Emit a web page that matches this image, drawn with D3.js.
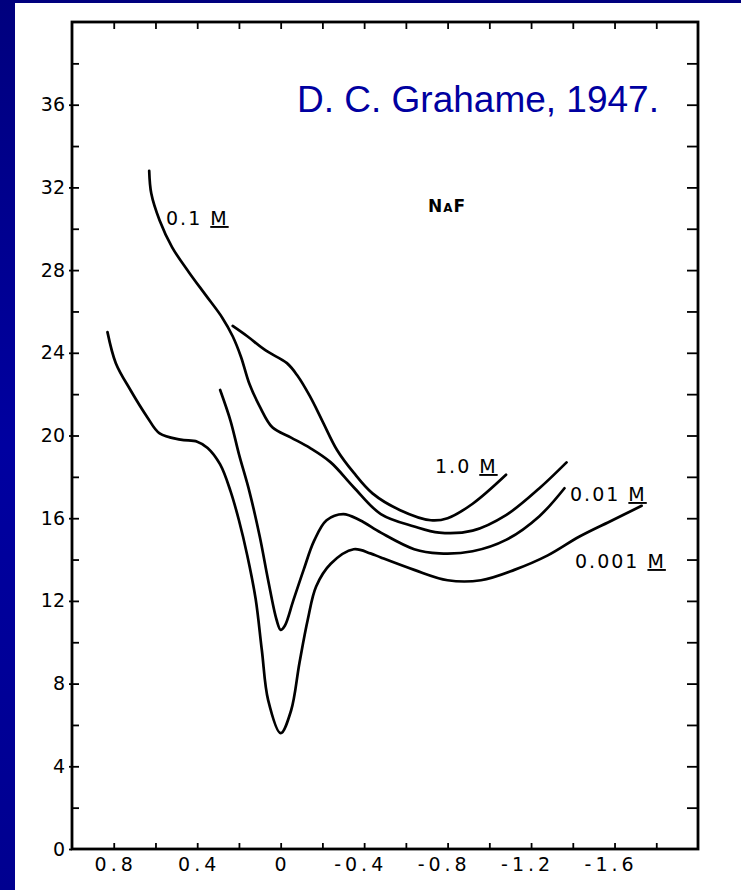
<!DOCTYPE html>
<html>
<head>
<meta charset="utf-8">
<script src="https://cdn.jsdelivr.net/npm/d3@7"></script>
<style>
  body { margin: 0; background: #000088; }
  svg { display: block; }
</style>
</head>
<body>
<div id="plot"></div>
<script>
// Grahame 1947, differential capacity of mercury in NaF solutions

// potential (V) and capacity (uF/cm2) for each concentration
const e0001 = [0.83, 0.79, 0.72, 0.64, 0.58, 0.48, 0.40, 0.35, 0.29, 0.24, 0.20, 0.16, 0.12, 0.09, 0.06, 0.00, -0.05, -0.09, -0.13, -0.17, -0.24, -0.35, -0.43, -0.48, -0.64, -0.80, -0.96, -1.12, -1.28, -1.43, -1.59, -1.73];
const c0001 = [25.0, 23.5, 22.2, 20.9, 20.1, 19.8, 19.7, 19.4, 18.6, 17.3, 15.9, 14.2, 12.1, 9.6, 7.2, 5.6, 6.7, 9.0, 11.1, 12.7, 13.8, 14.5, 14.3, 14.1, 13.5, 13.0, 13.0, 13.5, 14.2, 15.1, 15.9, 16.6];

const e001 = [0.29, 0.24, 0.20, 0.15, 0.10, 0.06, 0.02, 0.00, -0.02, -0.06, -0.11, -0.16, -0.22, -0.30, -0.38, -0.48, -0.64, -0.76, -0.92, -1.08, -1.24, -1.36];
const c001 = [22.2, 20.7, 19.1, 17.3, 15.1, 13.0, 11.1, 10.6, 10.8, 12.0, 13.5, 14.9, 15.9, 16.2, 15.9, 15.3, 14.5, 14.3, 14.4, 14.95, 16.1, 17.45];

const e01 = [0.63, 0.62, 0.58, 0.52, 0.44, 0.36, 0.28, 0.23, 0.19, 0.15, 0.10, 0.04, -0.05, -0.14, -0.24, -0.35, -0.48, -0.64, -0.76, -0.92, -1.08, -1.24, -1.37];
const c01 = [32.8, 31.7, 30.4, 29.1, 27.9, 26.8, 25.7, 24.8, 23.8, 22.5, 21.4, 20.4, 19.9, 19.4, 18.7, 17.5, 16.2, 15.6, 15.3, 15.4, 16.15, 17.45, 18.7];

const e1 = [0.23, 0.16, 0.07, -0.03, -0.08, -0.14, -0.20, -0.27, -0.35, -0.44, -0.57, -0.72, -0.80, -0.92, -1.08];
const c1 = [25.3, 24.8, 24.1, 23.5, 22.9, 21.9, 20.7, 19.3, 18.2, 17.2, 16.4, 15.9, 16.0, 16.7, 18.1];

const curveNames = ["0.001", "0.01", "0.1", "1.0"];

// tick labels
const yLabelVals = [0, 4, 8, 12, 16, 20, 24, 28, 32, 36];
const yMinorVals = d3.range(2, 40, 2);
const xLabelVals = [0.8, 0.4, 0, -0.4, -0.8, -1.2, -1.6];
const xLabels = ["0.8", "0.4", "0", "-0.4", "-0.8", "-1.2", "-1.6"];
const xMinorVals = d3.range(8, -19, -2).map(d => d / 10);

const w = 741;
const h = 890;

const svg = d3.select("div#plot")
  .append("svg")
  .attr("width", w)
  .attr("height", h);

// blue slide background
const grad = svg.append("defs").append("linearGradient")
  .attr("id", "bg").attr("x1", 0).attr("y1", 0).attr("x2", 0).attr("y2", 1);
grad.append("stop").attr("offset", "0%").attr("stop-color", "#00007e");
grad.append("stop").attr("offset", "50%").attr("stop-color", "#0000a0");
grad.append("stop").attr("offset", "100%").attr("stop-color", "#000090");

svg.append("rect")
  .attr("width", w).attr("height", h)
  .attr("fill", "url(#bg)");

svg.append("rect")
  .attr("x", 15).attr("y", 3)
  .attr("width", w - 15).attr("height", h - 3)
  .attr("fill", "white");

// scales
const x = d3.scaleLinear().domain([1.0, -2.0]).range([72, 698]);
const y = d3.scaleLinear().domain([0, 40]).range([849, 22]);

const labelFont = "DejaVu Sans, sans-serif";

// frame
svg.append("rect")
  .attr("x", x(1.0)).attr("y", y(40))
  .attr("width", x(-2.0) - x(1.0)).attr("height", y(0) - y(40))
  .attr("fill", "none")
  .attr("stroke", "black")
  .attr("stroke-width", 2.8);

function cleanAxis(g) {
  g.select(".domain").remove();
  g.selectAll(".tick line").attr("stroke", "black").attr("stroke-width", 1.8);
}

// inward ticks on all four sides
svg.append("g")
  .attr("transform", `translate(0,${y(0)})`)
  .call(d3.axisBottom(x).tickValues(xMinorVals).tickSize(-6).tickFormat(""))
  .call(cleanAxis);

svg.append("g")
  .attr("transform", `translate(0,${y(40)})`)
  .call(d3.axisTop(x).tickValues(xMinorVals).tickSize(-7).tickFormat(""))
  .call(cleanAxis);

svg.append("g")
  .attr("transform", `translate(${x(1.0)},0)`)
  .call(d3.axisLeft(y).tickValues(yMinorVals).tickSize(-7).tickFormat(""))
  .call(cleanAxis);

svg.append("g")
  .attr("transform", `translate(${x(-2.0)},0)`)
  .call(d3.axisRight(y).tickValues(yMinorVals).tickSize(-11).tickFormat(""))
  .call(cleanAxis);

// y labels
svg.append("g")
  .attr("transform", `translate(${x(1.0)},0)`)
  .call(d3.axisLeft(y).tickValues(yLabelVals).tickSize(3).tickPadding(4).tickFormat(d3.format("d")))
  .call(cleanAxis)
  .call(g => g.selectAll("text")
    .attr("font-family", labelFont)
    .attr("font-size", 19)
    .attr("fill", "black"));

// x labels, digits centred on the tick, minus sign hanging left
xLabelVals.forEach((v, i) => {
  const lab = xLabels[i];
  const t = svg.append("text")
    .attr("y", y(0) + 22)
    .attr("font-family", labelFont)
    .attr("font-size", 19)
    .attr("letter-spacing", 4)
    .attr("fill", "black");
  if (lab[0] === "-") t.append("tspan").text("-");
  const digits = t.append("tspan").text(lab.replace("-", ""));
  const dw = digits.node().getComputedTextLength();
  const total = t.node().getComputedTextLength();
  t.attr("x", x(v) + dw / 2 - total + 2);
});

// curves
const line = d3.line()
  .x(d => x(d[0]))
  .y(d => y(d[1]))
  .curve(d3.curveCatmullRom.alpha(0.5));

const curves = [d3.zip(e0001, c0001), d3.zip(e001, c001), d3.zip(e01, c01), d3.zip(e1, c1)];

svg.selectAll(".curve")
  .data(curves)
  .enter()
  .append("path")
  .attr("class", "curve")
  .attr("d", line)
  .attr("fill", "none")
  .attr("stroke", "black")
  .attr("stroke-width", 2.7)
  .attr("stroke-linejoin", "round")
  .attr("stroke-linecap", "round");

// curve labels
const curveLabelPos = [[575, 568], [570, 501], [166, 225], [435, 473]];
curveNames.forEach((n, i) => {
  const t = svg.append("text")
    .attr("x", curveLabelPos[i][0])
    .attr("y", curveLabelPos[i][1])
    .attr("font-family", labelFont)
    .attr("font-size", 19)
    .attr("letter-spacing", 2)
    .attr("fill", "black");
  t.append("tspan").text(n + " ");
  t.append("tspan").attr("text-decoration", "underline").text("M");
});

const naf = svg.append("text")
  .attr("x", 428).attr("y", 212)
  .attr("font-family", labelFont)
  .attr("font-size", 17)
  .attr("font-weight", "bold")
  .attr("letter-spacing", 1)
  .attr("fill", "black");
naf.append("tspan").text("N");
naf.append("tspan").attr("font-variant", "small-caps").text("a");
naf.append("tspan").text("F");

// citation
svg.append("text")
  .attr("x", 297).attr("y", 112)
  .attr("font-family", "Liberation Sans, Arial, sans-serif")
  .attr("font-size", 37)
  .attr("fill", "#0000a0")
  .text("D. C. Grahame, 1947.");
</script>
</body>
</html>
